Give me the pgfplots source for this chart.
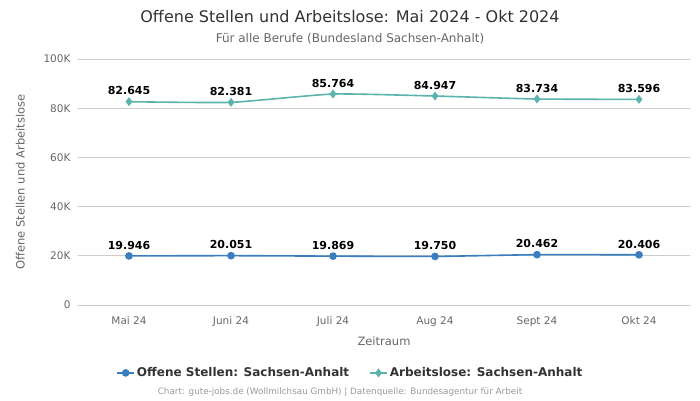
\documentclass[border=0pt]{standalone}
\usepackage{pgfplots}
\pgfplotsset{compat=1.18}
\usepackage{fontspec}
\setmainfont{DejaVu Sans}
\definecolor{cblue}{HTML}{3A7EBF}
\definecolor{cteal}{HTML}{5BB3AE}
\definecolor{cgrid}{HTML}{CCCCCC}
\definecolor{ctick}{HTML}{666666}
\definecolor{ctitle}{HTML}{333333}
\begin{document}
\begin{tikzpicture}
\begin{axis}[
  at={(0pt,0pt)}, anchor=south west,
  scale only axis, width=612pt, height=246pt,
  xmin=-0.5, xmax=5.5, ymin=0, ymax=100000,
  xtick={0,1,2,3,4,5},
  xticklabels={Mai 24,Juni 24,Juli 24,Aug 24,Sept 24,Okt 24},
  ytick={0,20000,40000,60000,80000,100000},
  yticklabels={0,20K,40K,60K,80K,100K},
  scaled y ticks=false,
  axis line style={draw=none},
  major tick length=0pt,
  ymajorgrids, grid style={cgrid, line width=0.7pt},
  tick label style={font=\fontsize{10.5}{12}\selectfont, text=ctick},
  xticklabel style={yshift=-8pt},
  yticklabel style={xshift=-4pt},
  xlabel={Zeitraum}, ylabel={Offene Stellen und Arbeitslose},
  label style={font=\fontsize{11.5}{13}\selectfont, text=ctick},
  xlabel style={yshift=-3pt},
  ylabel style={yshift=12pt},
  /pgf/number format/assume math mode=true,
  nodes near coords,
  every node near coord/.append style={font=\bfseries\fontsize{11}{13}\selectfont, text=black, yshift=2.5pt,
    /pgf/number format/.cd, 1000 sep={.}},
  legend style={draw=none, at={(0.445,-0.276)}, anchor=center, legend columns=2,
    font=\bfseries\fontsize{12}{14}\selectfont, text=ctitle,
    /tikz/every even column/.append style={column sep=18pt}},
  legend cell align=left,
  clip=false,
]
\addplot[cblue, line width=1.6pt, smooth, tension=0.3, mark=*, mark size=3pt, mark options={fill=cblue, draw=cblue}]
coordinates {(0,19946) (1,20051) (2,19869) (3,19750) (4,20462) (5,20406)};
\addlegendentry{Offene Stellen: Sachsen-Anhalt}
\addplot[cteal, line width=1.6pt, smooth, tension=0.3, mark=diamond*, mark size=3.2pt, mark options={fill=cteal, draw=cteal}]
coordinates {(0,82645) (1,82381) (2,85764) (3,84947) (4,83734) (5,83596)};
\addlegendentry{Arbeitslose: Sachsen-Anhalt}
\end{axis}
\node[font=\fontsize{16}{19}\selectfont, text=ctitle] at (272pt,288pt) {Offene Stellen und Arbeitslose: Mai 2024 - Okt 2024};
\node[font=\fontsize{12}{14}\selectfont, text=ctick] at (272pt,266pt) {Für alle Berufe (Bundesland Sachsen-Anhalt)};
\node[font=\fontsize{8.8}{10}\selectfont, text=gray!80] at (262pt,-87pt) {Chart: gute-jobs.de (Wollmilchsau GmbH) | Datenquelle: Bundesagentur für Arbeit};
\path[use as bounding box] (-78pt,-95pt) rectangle (622pt,305pt);
\end{tikzpicture}
\end{document}
